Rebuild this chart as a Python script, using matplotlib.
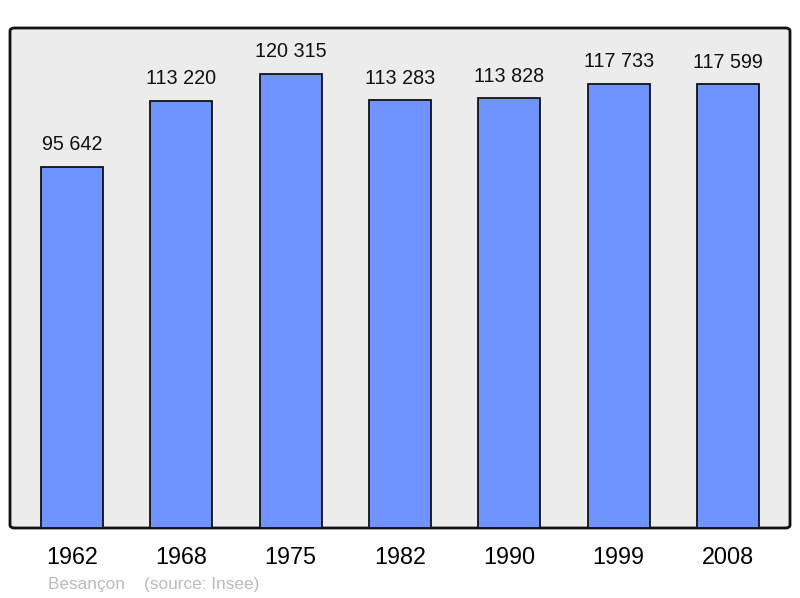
import matplotlib.pyplot as plt
from matplotlib.patches import FancyBboxPatch

years = ['1962', '1968', '1975', '1982', '1990', '1999', '2008']
population = [95642, 113220, 120315, 113283, 113828, 117733, 117599]
value_labels = ['95 642', '113 220', '120 315', '113 283', '113 828', '117 733', '117 599']

plt.rcParams['font.family'] = ['Liberation Sans', 'DejaVu Sans']

fig = plt.figure(figsize=(8, 5.98), dpi=100)
ax = fig.add_axes([10 / 800, 1 - 528 / 598, 780 / 800, 500 / 598])

# rounded frame instead of plain spines
for s in ax.spines.values():
    s.set_visible(False)
ax.set_facecolor('none')
frame = FancyBboxPatch((0, 0), 1, 1, boxstyle='round,pad=0,rounding_size=0.006',
                       transform=ax.transAxes, facecolor='#ececec',
                       edgecolor='#111111', linewidth=2, zorder=0, clip_on=False)
ax.add_patch(frame)

x = range(len(years))
ax.bar(x, population, width=0.57, color='#7094ff', edgecolor='#111111',
       linewidth=1.3, zorder=2)

for i, (v, lab) in enumerate(zip(population, value_labels)):
    ax.text(i, v + 3300, lab, ha='center', va='bottom', fontsize=14.2, color='#111111')

ax.set_xlim(-0.567, 6.567)
ax.set_ylim(0, 132450)
ax.set_xticks(list(x))
ax.set_xticklabels(years, fontsize=16.8)
ax.tick_params(axis='x', length=0, pad=13)
ax.set_yticks([])

fig.text(48 / 800, 1 - 584 / 598, 'Besançon    (source: Insee)', fontsize=12.4,
         color='#bbbbbb', ha='left', va='center')

fig.savefig('out.png', dpi=100)
